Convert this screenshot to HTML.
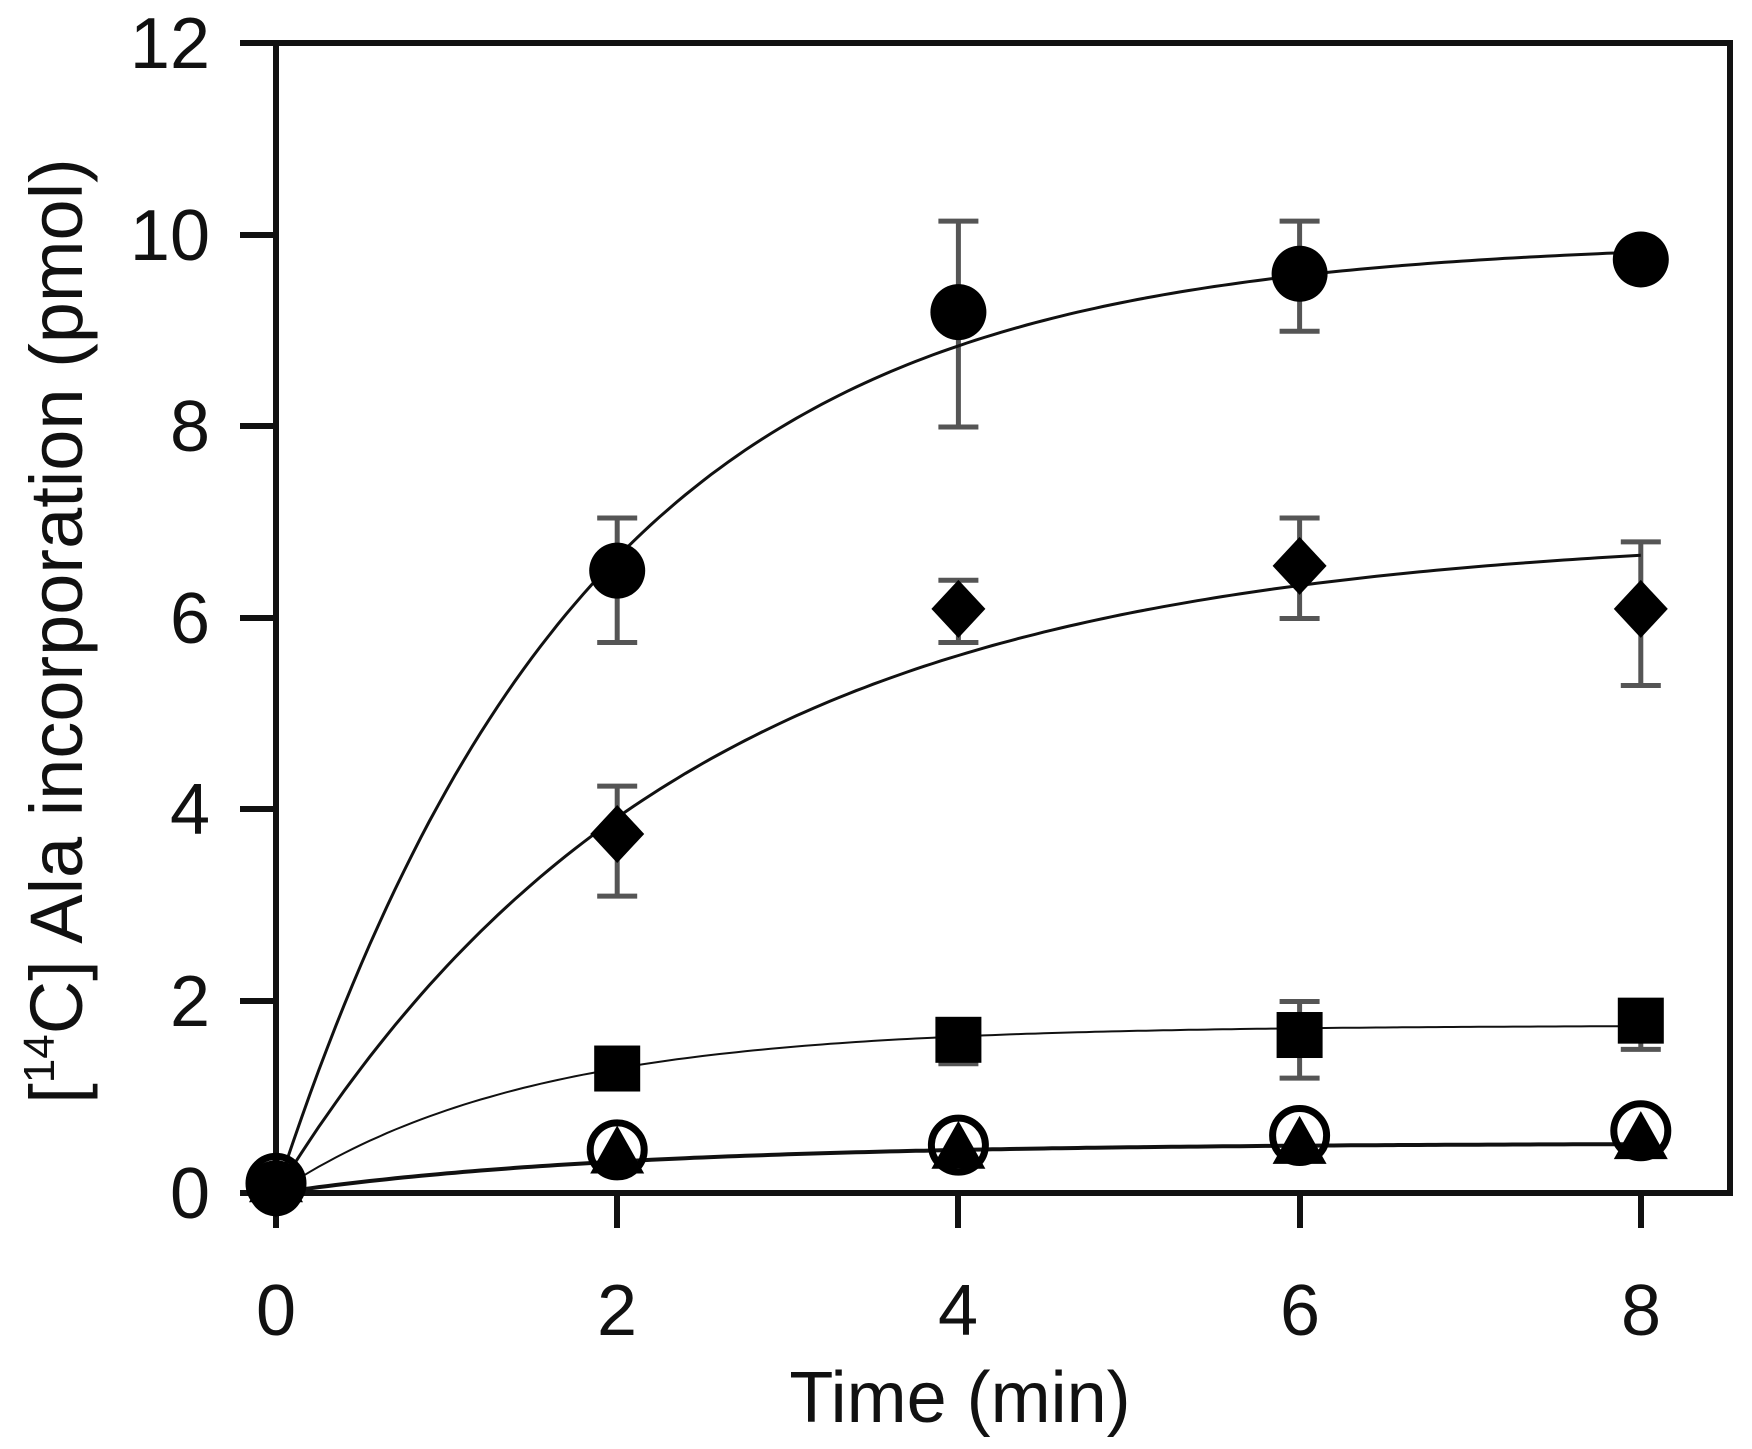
<!DOCTYPE html>
<html><head><style>body{margin:0;background:#fff}</style></head><body>
<svg width="1752" height="1444" xmlns="http://www.w3.org/2000/svg" font-family="Liberation Sans, sans-serif">
<rect width="1752" height="1444" fill="#fff"/>
<g stroke="#111" stroke-width="6" fill="none">
<rect x="276" y="43" width="1454" height="1150"/>
<path d="M240 43H276M240 235H276M240 426H276M240 618H276M240 809H276M240 1001H276M240 1193H276"/>
<path d="M276 1193V1228M617 1193V1228M958 1193V1228M1300 1193V1228M1641 1193V1228"/>
</g>
<g font-size="72" fill="#111" text-anchor="end">
<text x="210" y="68">12</text><text x="210" y="260">10</text><text x="210" y="451">8</text>
<text x="210" y="643">6</text><text x="210" y="834">4</text><text x="210" y="1026">2</text><text x="210" y="1218">0</text>
</g>
<g font-size="72" fill="#111" text-anchor="middle">
<text x="276" y="1335">0</text><text x="617" y="1335">2</text><text x="958" y="1335">4</text><text x="1300" y="1335">6</text><text x="1641" y="1335">8</text>
<text x="960" y="1422" font-size="72">Time (min)</text>
</g>
<text transform="translate(82,631) rotate(-90)" font-size="74" fill="#111" text-anchor="middle">[<tspan font-size="44" dy="-28">14</tspan><tspan dy="28">C] Ala incorporation (pmol)</tspan></text>
<g id="plot"></g>
</svg>
<script>
var g=document.getElementById('plot'),ns='http://www.w3.org/2000/svg';
function X(t){return 276+t*170.6}function Y(v){return 1193-v*95.75}
function el(n,a){var e=document.createElementNS(ns,n);for(var k in a)e.setAttribute(k,a[k]);g.appendChild(e);return e}
function curve(A,k,w){var d='';for(var t=0;t<=8.001;t+=0.05){d+=(t?'L':'M')+X(t).toFixed(1)+' '+Y(A*(1-Math.exp(-k*t))).toFixed(1)}el('path',{d:d,stroke:'#111','stroke-width':w,fill:'none'})}
function err(t,lo,hi){var x=X(t);el('path',{d:'M'+x+' '+Y(lo)+'V'+Y(hi)+'M'+(x-20)+' '+Y(lo)+'H'+(x+20)+'M'+(x-20)+' '+Y(hi)+'H'+(x+20),stroke:'#555','stroke-width':5,fill:'none'})}
err(2,5.75,7.05);err(4,8.0,10.15);err(6,9.0,10.15);
err(2,3.1,4.25);err(4,5.75,6.4);err(6,6.0,7.05);err(8,5.3,6.8);
err(4,1.35,1.7);err(6,1.2,2.0);err(8,1.5,1.95);
curve(9.95,0.55,3);curve(6.9,0.42,3);curve(1.75,0.68,2);curve(0.52,0.5,4);
[[0,0.05],[2,0.35],[4,0.4],[6,0.45],[8,0.5]].forEach(function(p){var x=X(p[0]),y=Y(p[1]);el('path',{d:'M'+x+' '+(y-34)+'L'+(x+27)+' '+(y+14)+'L'+(x-27)+' '+(y+14)+'Z',fill:'#000'})});
[[0,0.1],[2,0.45],[4,0.5],[6,0.6],[8,0.65]].forEach(function(p){el('circle',{cx:X(p[0]),cy:Y(p[1]),r:27,fill:'none',stroke:'#000','stroke-width':7})});
[[2,1.3],[4,1.6],[6,1.65],[8,1.8]].forEach(function(p){el('rect',{x:X(p[0])-23,y:Y(p[1])-23,width:46,height:46,fill:'#000'})});
[[0,0.05],[2,3.75],[4,6.1],[6,6.55],[8,6.1]].forEach(function(p){var x=X(p[0]),y=Y(p[1]);el('path',{d:'M'+x+' '+(y-29)+'L'+(x+27)+' '+y+'L'+x+' '+(y+29)+'L'+(x-27)+' '+y+'Z',fill:'#000'})});
[[0,0.05],[2,6.5],[4,9.2],[6,9.6],[8,9.75]].forEach(function(p){el('circle',{cx:X(p[0]),cy:Y(p[1]),r:28,fill:'#000'})});
</script>
</body></html>
